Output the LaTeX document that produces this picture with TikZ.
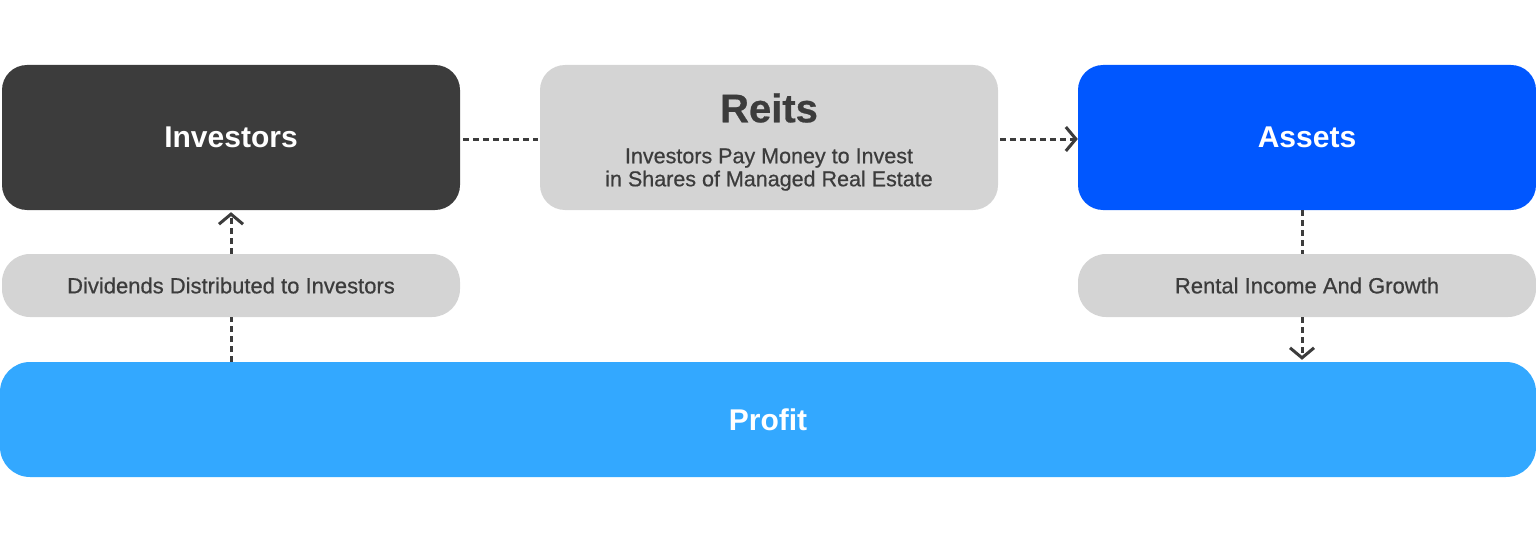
\documentclass[tikz,border=0pt]{standalone}
\usepackage{fontspec}
\setmainfont{Liberation Sans}
\usetikzlibrary{arrows.meta}
\definecolor{darkbox}{HTML}{3C3C3C}
\definecolor{greybox}{HTML}{D4D4D4}
\definecolor{assetblue}{HTML}{0057FF}
\definecolor{profitblue}{HTML}{33A8FF}
\begin{document}
\begin{tikzpicture}[x=1pt,y=-1pt,
    box/.style={rounded corners=25pt,minimum width=458pt,minimum height=145pt,inner sep=0pt,
        font=\fontsize{30}{36}\selectfont\bfseries,text=white},
    pill/.style={fill=greybox,rounded corners=28pt,minimum width=458pt,minimum height=63pt,inner sep=0pt,
        font=\fontsize{22}{26}\selectfont\addfontfeature{FakeBold=0.6},text=darkbox},
    link/.style={draw=darkbox,line width=3pt,dash pattern=on 6pt off 4pt},
    tip/.style={-{Straight Barb[length=10pt,width=24pt,line width=3pt]}}]

\useasboundingbox (0,0) rectangle (1536,543);
\node[box,fill=greybox,text=darkbox,align=center,font=\fontsize{21.5}{23}\selectfont\addfontfeature{FakeBold=0.6}] at (769,137.5)(reits)
    {\rule{0pt}{38pt}{\fontsize{40}{46}\selectfont\bfseries Reits}\\[18pt]Investors Pay Money to Invest\\in Shares of Managed Real Estate};
\node[box,fill=darkbox] at (231,137.5)(inv){Investors};
\node[box,fill=assetblue] at (1307,137.5)(assets){Assets};
\node[pill] at (231,285.5)(div){Dividends Distributed to Investors};
\node[pill] at (1307,285.5)(rent){Rental Income And Growth};
\node[box,fill=profitblue,minimum width=1536pt,minimum height=115pt,rounded corners=30pt] at (768,419.5)(profit){Profit};

% flow of money
\path[link,shorten <=3pt,shorten >=2pt] ([yshift=-1.5pt]inv.east) -- ([yshift=-1.5pt]reits.west);
\path[link,tip,shorten <=2pt] ([yshift=-1.5pt]reits.east) -- ([yshift=-1.5pt]assets.west);
\path[link] ([xshift=-5pt]assets.south) -- ([xshift=-5pt]rent.north);
\path[link,tip,shorten >=2pt] ([xshift=-5pt]rent.south) -- ([xshift=-5pt]rent.south |- profit.north);
\path[link] (div.south |- profit.north) -- (div.south);
\path[link,tip,shorten >=2pt] (div.north) -- (inv.south);
\end{tikzpicture}
\end{document}
